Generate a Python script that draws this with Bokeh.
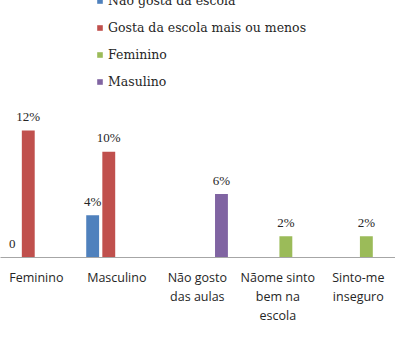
from bokeh.plotting import figure
from bokeh.models import (ColumnDataSource, Range1d, FixedTicker, Legend,
                          LegendItem, LabelSet)
from bokeh.embed import file_html
from bokeh.resources import INLINE

# Categories along the x axis
categories = ["Feminino", "Masculino", "Não gosto\ndas aulas",
              "Nãome sinto\nbem na\nescola", "Sinto-me\ninseguro"]

# Series values (percent); None = no bar in that category
nao_gosta = [0, 4, None, None, None]
gosta_mais_ou_menos = [12, 10, None, None, None]
feminino = [None, None, None, 2, 2]
masculino = [None, None, 6, None, None]

series = [
    ("Não gosta da escola", nao_gosta, "#4F81BD", -0.3),
    ("Gosta da escola mais ou menos", gosta_mais_ou_menos, "#C0504D", -0.1),
    ("Feminino", feminino, "#9BBB59", 0.1),
    ("Masulino", masculino, "#8064A2", 0.3),
]

TEXT = "#262626"
SERIF = "DejaVu Serif"

p = figure(width=395, height=337, output_backend="svg", toolbar_location=None,
           x_range=Range1d(-0.445, 4.462), y_range=Range1d(0, 24.3),
           min_border_left=0, min_border_right=0, min_border_top=0,
           min_border_bottom=80, y_axis_location=None)
p.outline_line_color = None
p.xgrid.visible = False
p.ygrid.visible = False

items = []
for name, vals, color, off in series:
    xs = [i + off for i, v in enumerate(vals) if v is not None]
    ys = [v for v in vals if v is not None]
    labels = [("%d%%" % v) if v != 0 else "0" for v in ys]
    src = ColumnDataSource(dict(x=xs, y=ys, label=labels))
    r = p.vbar(x="x", top="y", width=0.16, source=src, fill_color=color,
               line_color=None)
    items.append(LegendItem(label=name, renderers=[r]))
    p.add_layout(LabelSet(x="x", y="y", text="label", source=src,
                          text_align="center", text_baseline="middle",
                          y_offset=14, text_font=SERIF,
                          text_font_size="13px", text_color=TEXT))

legend = Legend(items=items, location=(96, 168), orientation="vertical",
                glyph_width=7, glyph_height=7, label_standoff=5,
                label_height=14, spacing=12, padding=0, margin=0,
                border_line_color=None, background_fill_alpha=0,
                label_text_font=SERIF, label_text_font_size="12.5px",
                label_text_color=TEXT)
p.add_layout(legend)

ax = p.xaxis[0]
ax.ticker = FixedTicker(ticks=list(range(len(categories))))
ax.major_label_overrides = {i: c for i, c in enumerate(categories)}
ax.axis_line_color = "#A6A6A6"
ax.axis_line_width = 1
ax.major_tick_line_color = None
ax.minor_tick_line_color = None
ax.major_tick_out = 0
ax.major_tick_in = 0
ax.major_label_standoff = 11
ax.major_label_text_font = "Open Sans"
ax.major_label_text_font_size = "12.5px"
ax.major_label_text_color = TEXT
ax.major_label_text_line_height = 1.12
ax.major_label_text_align = "center"

open("out.html", "w").write(file_html(p, INLINE))
